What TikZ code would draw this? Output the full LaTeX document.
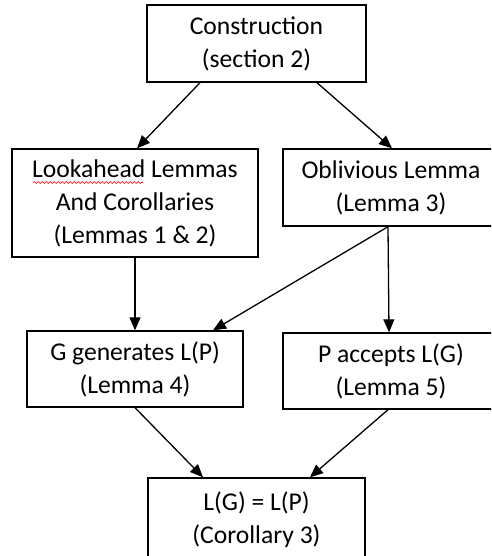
\documentclass[tikz,border=0pt]{standalone}
\usepackage{fontspec}
\setmainfont{Carlito}
\usetikzlibrary{arrows.meta,decorations.pathmorphing}
\begin{document}
\begin{tikzpicture}[x=1pt,y=-1pt,
  box/.style={draw,line width=1.4pt,rectangle,align=center,inner sep=0pt,
    font=\fontsize{25.6}{33}\selectfont},
  arr/.style={line width=1.3pt,-{Triangle[length=13pt,width=11pt]}}]
\useasboundingbox[clip] (0,0) rectangle (491,556);
\node[box,minimum width=219pt,minimum height=77pt] (constr) at (256.5,43.5) {Construction\\(section 2)};
\node[box,minimum width=246pt,minimum height=108pt] (look) at (135,203) {Lookahead Lemmas\\And Corollaries\\(Lemmas 1 \& 2)};
\node[box,minimum width=216pt,minimum height=77pt] (obliv) at (391,187.5) {Oblivious Lemma\\(Lemma 3)};
\node[box,minimum width=216pt,minimum height=76pt] (gg) at (135,369) {G generates L(P)\\(Lemma 4)};
\node[box,minimum width=216pt,minimum height=76pt] (pa) at (391,371) {P accepts L(G)\\(Lemma 5)};
\node[box,minimum width=217pt,minimum height=84pt] (lg) at (256.5,520) {L(G) = L(P)\\(Corollary 3)};
\draw[red,line width=0.6pt,decorate,decoration={snake,amplitude=1pt,segment length=4pt}] (33,182.5) -- (143,182.5);
\draw[arr] ([xshift=-56.5pt]constr.south) -- ([xshift=2pt]look.north);
\draw[arr] ([xshift=60.5pt]constr.south) -- ([xshift=1pt]obliv.north);
\draw[arr] (look.south) -- (gg.north);
\draw[arr] ([xshift=-3pt]obliv.south) -- ([xshift=78pt]gg.north);
\draw[arr] ([xshift=-3pt]obliv.south) -- ([xshift=-2pt]pa.north);
\draw[arr] (gg.south) -- ([xshift=-53.5pt]lg.north);
\draw[arr] ([xshift=-3pt]pa.south) -- ([xshift=53.5pt]lg.north);
\end{tikzpicture}
\end{document}
